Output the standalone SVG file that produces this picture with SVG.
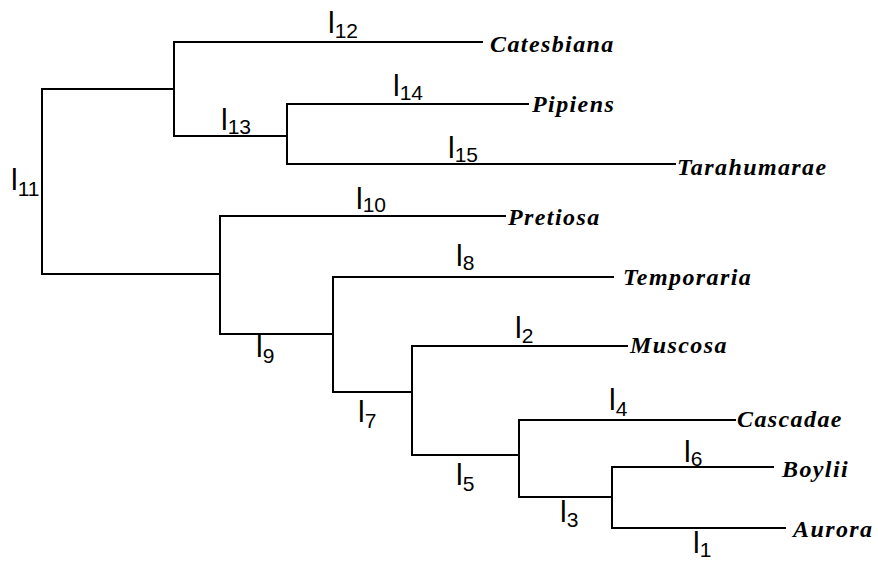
<svg xmlns="http://www.w3.org/2000/svg" width="878" height="564" viewBox="0 0 878 564">
<style>
.br{fill:none;stroke:#000;stroke-width:2;stroke-linecap:square}
.tx{font-family:"Liberation Serif","Times New Roman",serif;font-style:italic;font-weight:bold;font-size:24px;letter-spacing:1.4px;fill:#000}
.bl{font-family:"Liberation Sans",Arial,sans-serif;font-size:30px;fill:#000}
.sub{font-size:21px}
</style>
<rect width="878" height="564" fill="#fff"/>
<g id="connectors" class="br">
<path d="M174,89 H42 V274 H220"/>
<path d="M482,42 H174 V136 H287"/>
<path d="M528,104 H287 V164 H675"/>
<path d="M505,216 H220 V334 H333"/>
<path d="M613,277 H333 V392 H412"/>
<path d="M627,346 H412 V455 H519"/>
<path d="M735,420 H519 V497 H612"/>
<path d="M773,467 H612 V528 H785"/>
</g>
<g id="branch-labels">
<text class="bl" x="11" y="190">l<tspan class="sub" dy="6">11</tspan></text>
<text class="bl" x="328" y="33">l<tspan class="sub" dy="5">12</tspan></text>
<text class="bl" x="221" y="130">l<tspan class="sub" dy="4">13</tspan></text>
<text class="bl" x="393" y="96">l<tspan class="sub" dy="4">14</tspan></text>
<text class="bl" x="448" y="158">l<tspan class="sub" dy="4">15</tspan></text>
<text class="bl" x="356" y="209">l<tspan class="sub" dy="3">10</tspan></text>
<text class="bl" x="456" y="266">l<tspan class="sub" dy="4">8</tspan></text>
<text class="bl" x="256" y="357">l<tspan class="sub" dy="6">9</tspan></text>
<text class="bl" x="515" y="338">l<tspan class="sub" dy="5">2</tspan></text>
<text class="bl" x="358" y="422">l<tspan class="sub" dy="6">7</tspan></text>
<text class="bl" x="609" y="410">l<tspan class="sub" dy="6">4</tspan></text>
<text class="bl" x="456" y="485">l<tspan class="sub" dy="6">5</tspan></text>
<text class="bl" x="560" y="522">l<tspan class="sub" dy="5">3</tspan></text>
<text class="bl" x="684" y="462">l<tspan class="sub" dy="4">6</tspan></text>
<text class="bl" x="693" y="553">l<tspan class="sub" dy="4">1</tspan></text>
</g>
<g id="catesbiana"><text class="tx" x="490" y="52">Catesbiana</text></g>
<g id="pipiens"><text class="tx" x="532" y="112">Pipiens</text></g>
<g id="tarahumarae"><text class="tx" x="677" y="175">Tarahumarae</text></g>
<g id="pretiosa"><text class="tx" x="508" y="225">Pretiosa</text></g>
<g id="temporaria"><text class="tx" x="623" y="285">Temporaria</text></g>
<g id="muscosa"><text class="tx" x="630" y="353">Muscosa</text></g>
<g id="cascadae"><text class="tx" x="737" y="427">Cascadae</text></g>
<g id="boylii"><text class="tx" x="782" y="477">Boylii</text></g>
<g id="aurora"><text class="tx" x="793" y="537">Aurora</text></g>
</svg>
